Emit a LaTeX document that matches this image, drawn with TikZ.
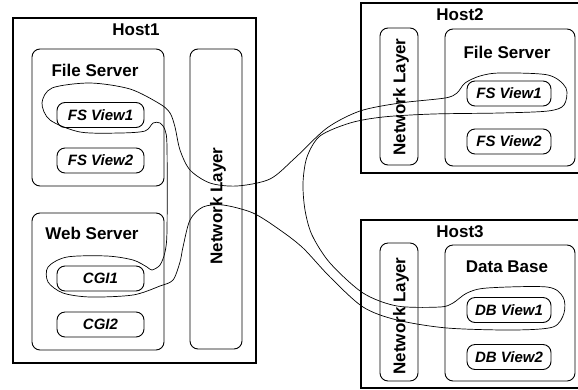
\documentclass[tikz,border=0pt]{standalone}
\usepackage{fontspec}
\setmainfont{Liberation Sans}
\begin{document}
\begin{tikzpicture}[x=1pt,y=-1pt,
  host/.style={draw, line width=2.2pt, rectangle, inner sep=0pt},
  cont/.style={draw, line width=0.9pt, rounded corners=8pt, inner sep=0pt},
  view/.style={draw, line width=0.9pt, rounded corners=8pt, minimum height=25pt, inner sep=0pt, font=\fontsize{15}{18}\selectfont\bfseries\itshape},
  lbl/.style={font=\fontsize{17}{20}\selectfont\bfseries, inner sep=0pt},
  nl/.style={lbl, rotate=90},
  link/.style={line width=0.7pt}]
\clip (0,0) rectangle (578,389);
\fill[white] (0,0) rectangle (578,389);
% hosts
\node[host, minimum width=243pt, minimum height=345pt] (host1) at (134.5,190.5) {};
\node[host, minimum width=239pt, minimum height=170pt] (host2) at (480.5,88) {};
\node[host, minimum width=239pt, minimum height=168pt] (host3) at (480.5,304) {};
\node[lbl] (h1lbl) at (136,30) {Host1};
\node[lbl] (h2lbl) at (460,15) {Host2};
\node[lbl] (h3lbl) at (460,232) {Host3};
% containers
\node[cont, minimum width=132pt, minimum height=137pt] (fs1) at (98,117.5) {};
\node[cont, minimum width=132pt, minimum height=137pt] (ws1) at (98,281.5) {};
\node[cont, minimum width=52pt, minimum height=300pt] (nl1) at (216,199) {};
\node[cont, minimum width=38pt, minimum height=137pt] (nl2) at (399,96.5) {};
\node[cont, minimum width=130pt, minimum height=137pt] (fs2) at (510,97.5) {};
\node[cont, minimum width=38pt, minimum height=138pt] (nl3) at (399,312) {};
\node[cont, minimum width=130pt, minimum height=136pt] (db3) at (510,313) {};
\node[lbl] (fs1lbl) at (95,70) {File Server};
\node[lbl] (ws1lbl) at (92,233) {Web Server};
\node[lbl] (fs2lbl) at (507,52) {File Server};
\node[lbl] (db3lbl) at (507,267) {Data Base};
\node[nl] (nl1lbl) at (218,206) {Network Layer};
\node[nl] (nl2lbl) at (401,97) {Network Layer};
\node[nl] (nl3lbl) at (401,316) {Network Layer};
% views
\node[view, minimum width=87pt] (fsv11) at (100.5,115) {FS View1};
\node[view, minimum width=87pt] (fsv12) at (100.5,160.5) {FS View2};
\node[view, minimum width=87pt] (cgi1) at (100.5,278.5) {CGI1};
\node[view, minimum width=87pt] (cgi2) at (100.5,324.5) {CGI2};
\node[view, minimum width=84pt] (fsv21) at (509,93.5) {FS View1};
\node[view, minimum width=84pt] (fsv22) at (509,141.5) {FS View2};
\node[view, minimum width=84pt] (dbv1) at (509,310) {DB View1};
\node[view, minimum width=84pt] (dbv2) at (509,357) {DB View2};
% connection loop
\draw[link] plot[smooth cycle, tension=0.5] coordinates {
(90,83) (130,89) (160,104) (170,113) (175,127) (180,150) (190,170) (210,183)
(237,186) (270,179) (295,158) (327,128) (360,111) (400,103) (445,98) (457,93)
(465,83) (480,76) (500,73) (548,75) (566,88) (564,105) (548,111) (500,113)
(433,114) (383,117) (350,123) (320,136) (307,157) (303,183) (305,210) (312,235)
(330,263) (363,293) (397,306) (440,307) (453,303) (467,293) (487,288) (547,287)
(563,297) (564,313) (553,327) (513,330) (447,328) (397,320) (363,307) (330,277)
(303,248) (280,230) (253,213) (223,205) (203,207) (190,220) (183,247) (180,262)
(173,280) (160,286) (133,295) (90,297) (63,293) (48,282) (48,267) (67,257)
(107,256) (133,260) (147,267) (152,270) (160,265) (165,252) (167,230) (167,147)
(165,130) (160,123) (153,123) (145,131) (120,133) (80,132) (50,120) (42,103)
(52,88)};
\end{tikzpicture}
\end{document}
